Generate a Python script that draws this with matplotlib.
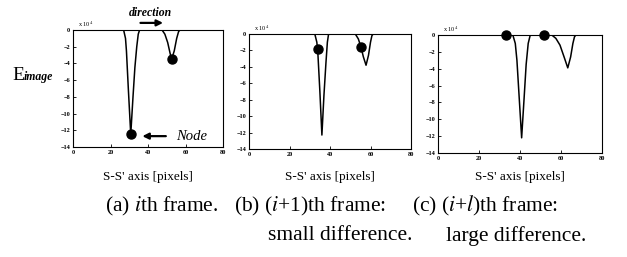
import matplotlib.pyplot as plt

plt.rcParams['font.family'] = ['Liberation Serif', 'DejaVu Serif']
plt.rcParams['mathtext.fontset'] = 'stix'

# E_image profiles along S-S' axis (values in units of 1e4)
xa = [0, 27, 28, 28.5, 29.5, 30.8, 32, 33, 34, 34.8, 35.5,
      47.5, 49, 50.5, 51.8, 52.6, 54, 55.3, 56.3, 57, 80]
ya = [0, 0, -1, -2.5, -7, -12.5, -8, -4.5, -2, -0.5, 0,
      0, -0.5, -1.5, -2.8, -3.5, -2.5, -1, -0.2, 0, 0]
nodes_a_x = [30.8, 52.6]
nodes_a_y = [-12.5, -3.5]

xb = [0, 32.5, 33.5, 34, 35, 36, 37, 38, 38.7, 39.3,
      52.5, 54, 55.3, 56.5, 57.8, 59, 60, 60.7, 61.3, 80]
yb = [0, 0, -1, -2.3, -7, -12.3, -7.5, -3.5, -1, 0,
      0, -0.6, -1.6, -2.8, -3.8, -2.6, -1, -0.2, 0, 0]
nodes_b_x = [33.9, 55.3]
nodes_b_y = [-1.8, -1.6]

xc = [0, 36.5, 37.7, 38.5, 39.5, 40.8, 42, 43, 44, 45,
      55.5, 57.5, 59.5, 61.5, 63.3, 64.7, 65.8, 66.6, 67.3, 80]
yc = [0, 0, -1, -3, -7, -12.2, -7.5, -3.5, -1, 0,
      0, -0.4, -1.2, -2.6, -3.9, -2.6, -1, -0.2, 0, 0]
nodes_c_x = [33.2, 51.9]
nodes_c_y = [0, 0]

xticks = [0, 20, 40, 60, 80]
yticks = [0, -2, -4, -6, -8, -10, -12, -14]

captions = ['(a) $\\it{i}$th frame.',
            '(b) ($\\it{i}$+1)th frame:',
            '(c) ($\\it{i}$+$\\it{l}$)th frame:']
captions2 = ['small difference.', 'large difference.']

W, H = 627, 257
fig = plt.figure(figsize=(W / 100, H / 100), dpi=100)

# axes boxes in pixels: left, top, right, bottom
boxes = [(73, 30, 223, 147), (249, 34, 411, 149), (438, 35, 602, 153)]
data = [(xa, ya, nodes_a_x, nodes_a_y),
        (xb, yb, nodes_b_x, nodes_b_y),
        (xc, yc, nodes_c_x, nodes_c_y)]

axes = []
for (l, t, r, b), (x, y, nx, ny) in zip(boxes, data):
    ax = fig.add_axes([l / W, 1 - b / H, (r - l) / W, (b - t) / H])
    ax.plot(x, y, color='black', lw=1.1)
    ax.plot(nx, ny, 'o', color='black', ms=6.5, clip_on=False, zorder=5)
    ax.set_xlim(0, 80)
    ax.set_ylim(-14, 0)
    ax.set_xticks(xticks)
    ax.set_yticks(yticks)
    ax.tick_params(direction='in', length=2, width=0.6, labelsize=4.5, pad=2)
    for lab in ax.get_xticklabels() + ax.get_yticklabels():
        lab.set_fontweight('bold')
    for s in ax.spines.values():
        s.set_linewidth(0.8)
    ax.text(0.03, 1.01, 'x 10$^4$', transform=ax.transAxes, fontsize=4.5,
            va='bottom', ha='left')
    fig.text((l + r) / 2 / W, 1 - 177 / H, "S-S' axis [pixels]",
             fontsize=9.5, ha='center', va='center')
    axes.append(ax)

ax = axes[0]
# direction arrow above panel (a)
ax.annotate('', xy=(49.5, 0.85), xytext=(34.5, 0.85), annotation_clip=False,
            arrowprops=dict(arrowstyle='-|>', color='black', lw=1.6,
                            mutation_scale=9))
ax.text(41.5, 2.0, 'direction', fontsize=8.5, fontweight='bold',
        style='italic', ha='center', va='center')
# Node arrow
ax.annotate('', xy=(35.5, -12.7), xytext=(51, -12.7),
            arrowprops=dict(arrowstyle='-|>', color='black', lw=1.6,
                            mutation_scale=9))
ax.text(55, -12.7, 'Node', fontsize=10.5, style='italic', ha='left',
        va='center')

# y label E_image
fig.text(12 / W, 1 - 75 / H, 'E', fontsize=14, ha='left', va='center')
fig.text(23.5 / W, 1 - 77 / H, 'image', fontsize=8.5, fontweight='bold',
         style='italic', ha='left', va='center')

# captions
cap_x = [105, 234, 412]
for cx, cap in zip(cap_x, captions):
    fig.text(cx / W, 1 - 206 / H, cap, fontsize=15.5, ha='left',
             va='center')
cap2_x = [268, 446]
for cx, cap in zip(cap2_x, captions2):
    fig.text(cx / W, 1 - 236 / H, cap, fontsize=15.5, ha='left',
             va='center')

fig.savefig('out.png', dpi=100)
